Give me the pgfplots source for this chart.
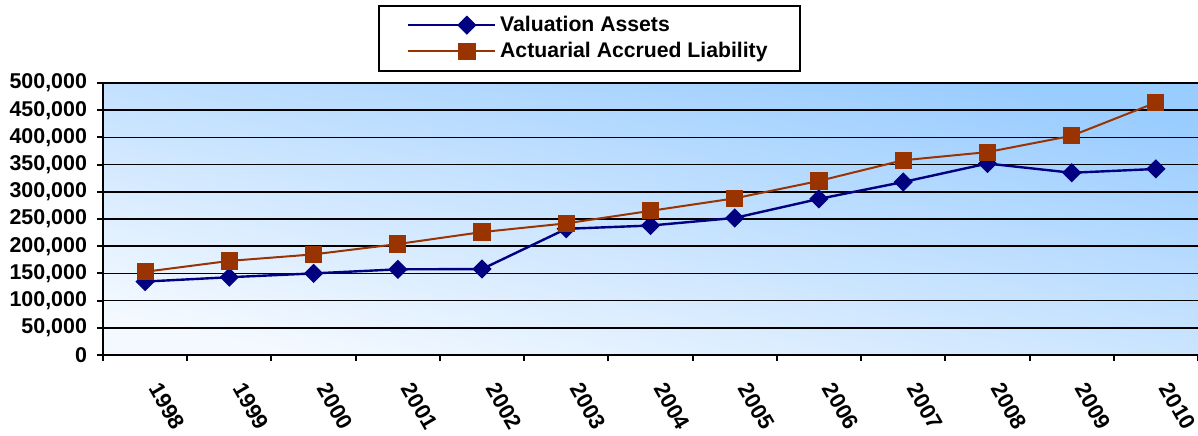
\documentclass[border=0pt]{standalone}
\usepackage{fontspec}
\setmainfont{Liberation Sans}
\usepackage{pgfplots}
\pgfplotsset{compat=1.18}

\definecolor{assets}{HTML}{000080}
\definecolor{aal}{HTML}{993300}
\definecolor{bglo}{HTML}{F4F9FF}
\definecolor{bghi}{HTML}{99CCFF}

\begin{document}
\begin{tikzpicture}
\begin{axis}[
    scale only axis,
    width=547.5pt, height=136pt,
    xmin=-0.5, xmax=12.5,
    ymin=0, ymax=500000,
    xtick={0,...,12},
    xticklabels={1998,1999,2000,2001,2002,2003,2004,2005,2006,2007,2008,2009,2010},
    minor xtick={-0.5,0.5,...,12.5},
    ytick={0,50000,...,500000},
    major x tick style={draw=none},
    minor x tick style={black, line width=1pt},
    major y tick style={black, line width=1pt},
    tick align=outside,
    major tick length=3pt, minor tick length=3pt,
    axis x line*=bottom, axis y line*=left,
    axis line style={black, line width=1pt, -},
    ymajorgrids, grid style={black, line width=0.8pt},
    axis background/.style={shade, top color=bghi, bottom color=bglo, shading angle=-12},
    scaled y ticks=false,
    /pgf/number format/fixed,
    /pgf/number format/1000 sep={,},
    /pgf/number format/assume math mode=true,
    yticklabel style={font=\bfseries\fontsize{10.7}{12}\selectfont, xshift=-1.5pt},
    xticklabel style={font=\bfseries\fontsize{11}{13}\selectfont, yshift=-9pt, xshift=3pt, rotate=-60, anchor=west},
    legend style={at={(rel axis cs:0.444,1.287)}, anchor=north, draw=black,
        line width=1pt, fill=white, inner xsep=14pt, inner ysep=3pt,
        font=\bfseries\fontsize{10.6}{12}\selectfont, row sep=0pt},
    legend cell align=left,
    legend image code/.code={%
        \path (-15.5pt,0pt) -- (28pt,0pt);
        \draw[mark repeat=2, mark phase=2, #1] plot coordinates {(0pt,0pt) (14pt,0pt) (28pt,0pt)};
    },
]

% Valuation Assets
\addplot[assets, line width=1.2pt, mark=square*, mark size=2.8pt, mark options={fill=assets, draw=assets, rotate=45}]
    coordinates {
    (0,135000) (1,143000) (2,150000) (3,157500) (4,158000) (5,232000) (6,238000)
    (7,252000) (8,287000) (9,318000) (10,352000) (11,335000) (12,342000)
};

% Actuarial Accrued Liability
\addplot[aal, line width=1pt, mark=square*, mark size=3.8pt, mark options={fill=aal, draw=aal}]
    coordinates {
    (0,153000) (1,173000) (2,185000) (3,204000) (4,226000) (5,242000) (6,265000)
    (7,288000) (8,320000) (9,358000) (10,373000) (11,403000) (12,464000)
};

\legend{Valuation Assets, Actuarial Accrued Liability}
\end{axis}
\pgfresetboundingbox
\path (-51.5pt,-40pt) rectangle (547.5pt,177.5pt);
\end{tikzpicture}
\end{document}
